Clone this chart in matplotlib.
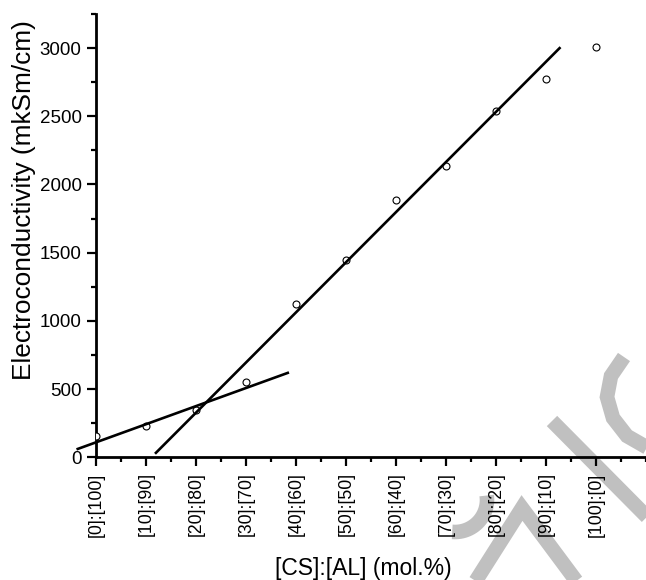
import numpy as np
import matplotlib
matplotlib.use("Agg")
import matplotlib.pyplot as plt
from matplotlib.lines import Line2D
from matplotlib.ticker import MultipleLocator

plt.rcParams['font.family'] = ['Liberation Sans', 'DejaVu Sans']

# data
cs_mol = [0, 10, 20, 30, 40, 50, 60, 70, 80, 90, 100]
tick_labels = ['[0]:[100]', '[10]:[90]', '[20]:[80]', '[30]:[70]', '[40]:[60]',
               '[50]:[50]', '[60]:[40]', '[70]:[30]', '[80]:[20]', '[90]:[10]', '[100]:[0]']
conductivity = [155, 232, 350, 549, 1127, 1449, 1889, 2138, 2540, 2775, 3009]

# two linear fit segments (end points)
fit_low_x = [-3.9, 38.6]
fit_low_y = [58, 622]
fit_high_x = [11.8, 92.9]
fit_high_y = [26, 3006]

W, H = 646, 580
fig = plt.figure(figsize=(W / 100, H / 100), dpi=100)
fig.patch.set_facecolor('white')
ax = fig.add_axes([96 / W, 1 - 457.3 / H, (W - 96) / W, (457.3 - 13.9) / H])
ax.set_facecolor('none')


def px(x, y):
    return x / W, 1 - y / H


# grey watermark strokes behind the plot
wm = dict(color='#c0c0c0', lw=10.5, solid_capstyle='butt', solid_joinstyle='miter',
          zorder=-1, transform=fig.transFigure)
th = np.radians(np.linspace(-8, 95, 30))
arc = [px(455 + 32 * np.cos(t), 500 + 32 * np.sin(t)) for t in th]
strokes = [
    arc,
    [px(470, 590), px(522, 508), px(583, 590)],
    [px(552, 421), px(665, 535)],
    [px(624, 357), px(611, 376), px(607, 397), px(613, 418), px(627, 436), px(655, 452)],
]
for s in strokes:
    xs, ys = zip(*s)
    fig.add_artist(Line2D(xs, ys, **wm))

ax.plot(cs_mol, conductivity, linestyle='none', marker='o', markersize=5,
        markerfacecolor='white', markeredgecolor='black', markeredgewidth=0.8, zorder=3)
ax.plot(fit_low_x, fit_low_y, color='black', lw=1.9, clip_on=False, zorder=4,
        solid_capstyle='butt')
ax.plot(fit_high_x, fit_high_y, color='black', lw=1.9, clip_on=False, zorder=4,
        solid_capstyle='butt')

ax.set_xlim(0, 110)
ax.set_ylim(0, 3250)
ax.set_xticks(cs_mol)
ax.set_xticklabels(tick_labels, rotation=90, fontsize=12.7)
ax.xaxis.set_minor_locator(MultipleLocator(5))
ax.yaxis.set_major_locator(MultipleLocator(500))
ax.yaxis.set_minor_locator(MultipleLocator(250))
for lab in ax.get_yticklabels():
    lab.set_fontsize(13.5)

ax.tick_params(which='major', direction='out', length=6.3, width=1.6, pad=4)
ax.tick_params(which='minor', direction='out', length=3.6, width=1.6)
ax.tick_params(axis='x', which='major', pad=4.5)

for side in ['top', 'right']:
    ax.spines[side].set_visible(False)
for side in ['left', 'bottom']:
    ax.spines[side].set_linewidth(2.0)

ax.set_xlabel('[CS]:[AL] (mol.%)', fontsize=16.5, va='center')
ax.xaxis.set_label_coords((363 - 96) / 550, (457.3 - 568) / 443.4)
ax.set_ylabel('Electroconductivity (mkSm/cm)', fontsize=18.9, va='center')
ax.yaxis.set_label_coords((24 - 96) / 550, (457.3 - 200) / 443.4)

fig.savefig('out.png', dpi=100)
